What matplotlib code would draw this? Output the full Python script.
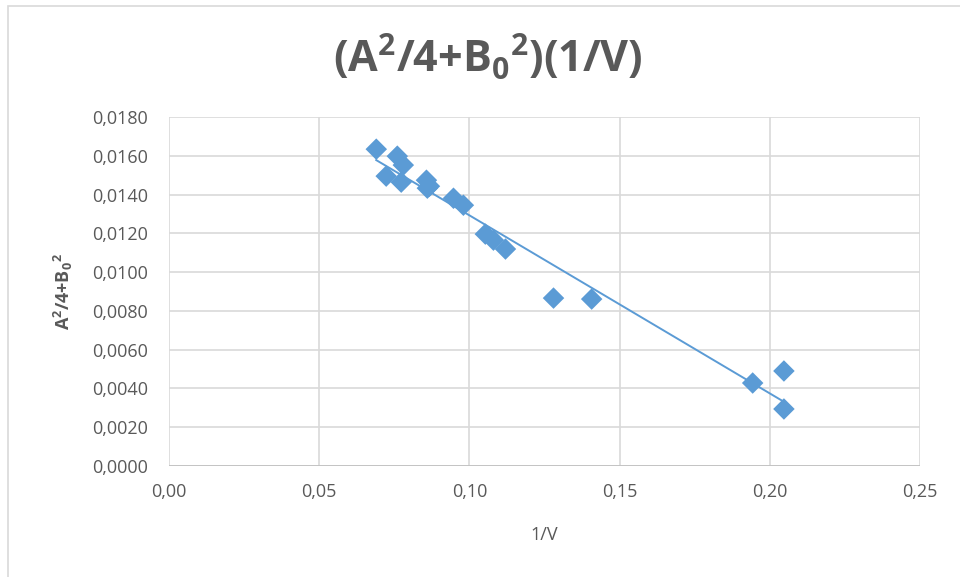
import numpy as np
import matplotlib.pyplot as plt
from matplotlib.patches import Rectangle

plt.rcParams['font.family'] = ['Open Sans', 'DejaVu Sans']
plt.rcParams['mathtext.fontset'] = 'custom'
plt.rcParams['mathtext.rm'] = 'Open Sans'
plt.rcParams['mathtext.bf'] = 'Open Sans:bold'
plt.rcParams['mathtext.default'] = 'bf'

# datos
inv_v = [0.0690, 0.0723, 0.0760, 0.0780, 0.0773, 0.0857, 0.0867, 0.0860,
         0.0947, 0.0980, 0.1053, 0.1080, 0.1120, 0.1280, 0.1407, 0.1943,
         0.2047, 0.2047]
a2b2 = [0.01634, 0.01495, 0.01598, 0.01552, 0.01464, 0.01474, 0.01443, 0.01433,
        0.01381, 0.01345, 0.01196, 0.01165, 0.01119, 0.00866, 0.00861, 0.00428,
        0.00490, 0.00294]

x_ticks = [0.00, 0.05, 0.10, 0.15, 0.20, 0.25]
y_ticks = [0.0000, 0.0020, 0.0040, 0.0060, 0.0080, 0.0100, 0.0120, 0.0140, 0.0160, 0.0180]

azul = '#5B9BD5'
gris = '#595959'
rejilla = '#D9D9D9'

fig = plt.figure(figsize=(9.6, 5.77), dpi=100)
fig.patches.append(Rectangle((8 / 960, -0.1), 1.2, 1 - 6 / 577 + 0.1,
                             transform=fig.transFigure, fill=False,
                             edgecolor=rejilla, linewidth=1.2))

ax = fig.add_axes([169 / 960, 111 / 577, 751 / 960, 349 / 577])

# recta de tendencia lineal
m, b = np.polyfit(inv_v, a2b2, 1)
xs = np.array([min(inv_v), max(inv_v)])
ax.plot(xs, m * xs + b, color=azul, linewidth=1.4, zorder=2)

ax.scatter(inv_v, a2b2, marker='D', s=120, color=azul, edgecolors='none', zorder=3)

ax.set_xlim(0, 0.25)
ax.set_ylim(0, 0.018)
ax.set_xticks(x_ticks)
ax.set_yticks(y_ticks)
ax.set_xticklabels([f"{t:.2f}".replace('.', ',') for t in x_ticks])
ax.set_yticklabels([f"{t:.4f}".replace('.', ',') for t in y_ticks])
ax.tick_params(length=0, labelsize=13, labelcolor=gris)
ax.tick_params(axis='y', pad=15)
ax.tick_params(axis='x', pad=12)
ax.grid(True, color=rejilla, linewidth=1.2)
ax.set_axisbelow(True)
for s in ax.spines.values():
    s.set_visible(False)
ax.axhline(0, color='#BFBFBF', linewidth=1.2, zorder=1)

ax.set_xlabel("1/V", fontsize=13, color=gris, labelpad=18)
ax.set_ylabel(r"$A^{2}/4{+}B_{0}{}^{2}$", fontsize=13, color=gris, labelpad=12)

fig.text(0.508, 1 - 58 / 577, r"$(A^{2}/4{+}B_{0}{}^{2})(1/V)$", ha='center', va='center',
         fontsize=31, color=gris)

fig.savefig('out.png', dpi=100)
